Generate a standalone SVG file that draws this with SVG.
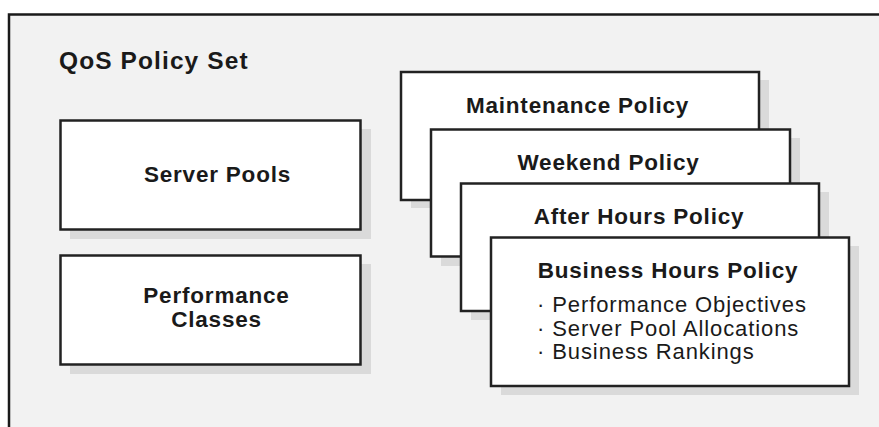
<svg xmlns="http://www.w3.org/2000/svg" width="879" height="427" viewBox="0 0 879 427">
<style>
.box{fill:#ffffff;stroke:#222222;stroke-width:2.5}
.shadow{fill:#dadada}
.frame{fill:#f2f2f2;stroke:#1a1a1a;stroke-width:2.5}
.t{font-family:"Liberation Sans",Arial,Helvetica,sans-serif;fill:#1a1a1a}
.b{font-weight:bold;font-size:22.5px;text-anchor:middle;letter-spacing:0.8px}
.r{font-size:22px;letter-spacing:0.9px}
</style>
<rect width="879" height="427" fill="#ffffff"/>
<g id="frame">
<rect class="frame" x="9" y="14.5" width="890" height="430"/>
<text class="t" x="59" y="69" font-weight="bold" font-size="24.5" letter-spacing="1.1">QoS Policy Set</text>
</g>
<g id="server-pools">
<rect class="shadow" x="70" y="129" width="301" height="110"/>
<rect class="box" x="60.5" y="120.5" width="300" height="109"/>
<text class="t b" x="217.5" y="182" font-size="23">Server Pools</text>
</g>
<g id="performance-classes">
<rect class="shadow" x="70" y="264" width="301" height="110"/>
<rect class="box" x="60.5" y="255.5" width="300" height="109"/>
<text class="t b" x="216.5" y="303" font-size="23">Performance</text>
<text class="t b" x="216.5" y="327" font-size="23">Classes</text>
</g>
<g id="maintenance-policy">
<rect class="shadow" x="411" y="80" width="358" height="128"/>
<rect class="box" x="401" y="72" width="358" height="128"/>
<text class="t b" x="577.5" y="113">Maintenance Policy</text>
</g>
<g id="weekend-policy">
<rect class="shadow" x="441" y="138" width="359" height="128"/>
<rect class="box" x="431" y="129.5" width="359" height="127"/>
<text class="t b" x="608.5" y="170">Weekend Policy</text>
</g>
<g id="after-hours-policy">
<rect class="shadow" x="471" y="192" width="358" height="128"/>
<rect class="box" x="461" y="183.5" width="358" height="127.5"/>
<text class="t b" x="639" y="224">After Hours Policy</text>
</g>
<g id="business-hours-policy">
<rect class="shadow" x="501" y="246" width="358" height="149"/>
<rect class="box" x="491" y="237.5" width="358" height="148.5"/>
<text class="t b" x="668" y="278">Business Hours Policy</text>
<text class="t r" x="537" y="311.5">· Performance Objectives</text>
<text class="t r" x="537" y="335.5">· Server Pool Allocations</text>
<text class="t r" x="537" y="359">· Business Rankings</text>
</g>
<g id="connectors"></g>
</svg>
